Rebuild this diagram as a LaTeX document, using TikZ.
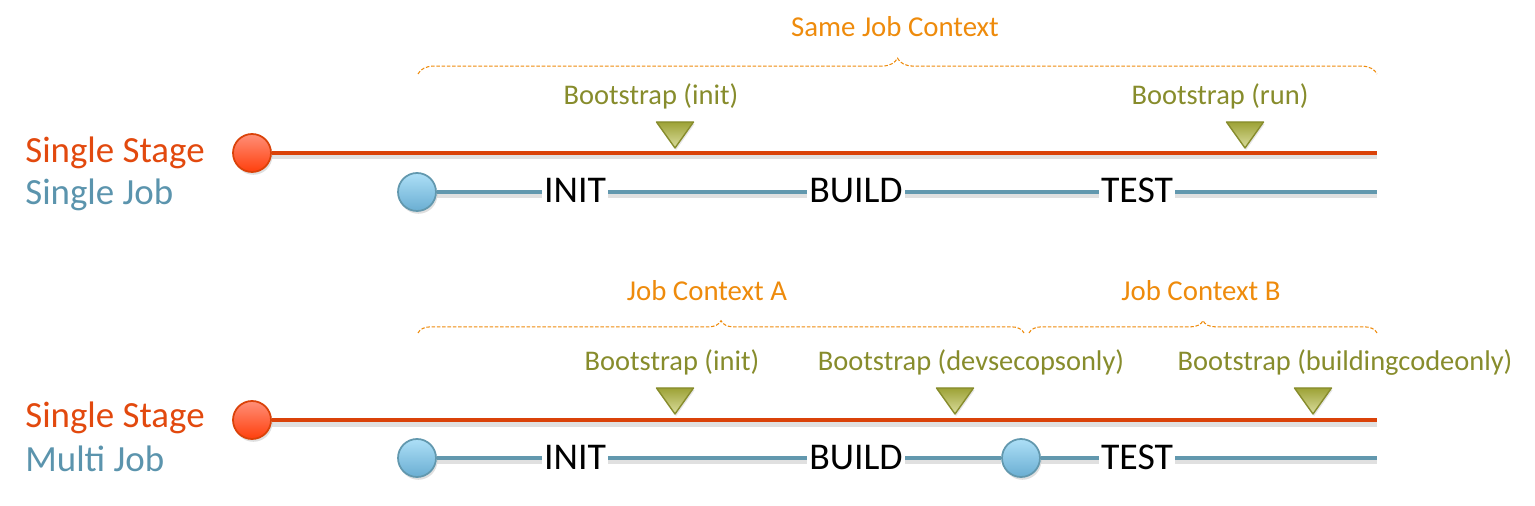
\documentclass[tikz,border=0pt]{standalone}
\usepackage{fontspec}
\setmainfont{Carlito}
\usetikzlibrary{decorations.pathreplacing,shadows}
\definecolor{stagered}{HTML}{DA4209}
\definecolor{stagetext}{HTML}{E2490E}
\definecolor{stagetop}{HTML}{FF8F78}
\definecolor{stagebot}{HTML}{FF3F0C}
\definecolor{jobblue}{HTML}{6298AE}
\definecolor{jobtext}{HTML}{5B94AD}
\definecolor{jobtop}{HTML}{ADDFF7}
\definecolor{jobbot}{HTML}{6AAED2}
\definecolor{ctxorange}{HTML}{EE8B0C}
\definecolor{bootolive}{HTML}{878C2C}
\definecolor{boottop}{HTML}{9DA236}
\definecolor{bootbot}{HTML}{DADD9E}

\begin{document}
\begin{tikzpicture}[x=0.02cm, y=-0.02cm,
    stagedot/.style={circle, draw=stagered, line width=1pt, top color=stagetop, bottom color=stagebot,
      minimum size=0.76cm, inner sep=0pt, drop shadow={opacity=.25, shadow xshift=.8pt, shadow yshift=-1.6pt}},
    jobdot/.style={circle, draw=jobblue, line width=1pt, top color=jobtop, bottom color=jobbot,
      minimum size=0.76cm, inner sep=0pt, drop shadow={opacity=.25, shadow xshift=.8pt, shadow yshift=-1.6pt}},
    stageline/.style={stagered, line width=2.8pt,
      preaction={draw=black, opacity=.12, line width=3.4pt, transform canvas={yshift=-2pt}}},
    jobline/.style={jobblue, line width=2.3pt,
      preaction={draw=black, opacity=.12, line width=3pt, transform canvas={yshift=-2pt}}},
    ctxbrace/.style={ctxorange, line width=.6pt, dash pattern=on 2pt off 1pt, decorate,
      decoration={brace, amplitude=#1}},
    ctxlabel/.style={ctxorange, font=\fontsize{16.4}{19}\selectfont, anchor=base, inner sep=0pt},
    bootlabel/.style={bootolive, font=\fontsize{16.2}{19}\selectfont, anchor=base, inner sep=0pt},
    rowlabel/.style={font=\fontsize{21}{25}\selectfont, anchor=base west, inner sep=0pt},
    steplabel/.style={fill=white, inner sep=1.2pt, font=\fontsize{21.5}{26}\selectfont, anchor=base},
    bootmark/.style={draw=bootolive, line width=.8pt, line join=round, top color=boottop, bottom color=bootbot,
      drop shadow={opacity=.2, shadow xshift=.6pt, shadow yshift=-1.2pt}}]
  \useasboundingbox (0,0) rectangle (1535,506);

  % single stage, single job
  \coordinate (ctxS-l) at (418,74);
  \coordinate (ctxS-r) at (1377,74);
  \draw[ctxbrace=9pt] (ctxS-l) -- (ctxS-r);
  \node[ctxlabel] (ctxS) at (895,37) {Same Job Context};

  \node[rowlabel, stagetext] (stageS) at (25,163) {Single Stage};
  \node[rowlabel, jobtext] (jobS) at (25,205) {Single Job};

  \node[stagedot] (stA) at (252,153) {};
  \coordinate (stA-end) at (1377,153);
  \draw[stageline] (stA) -- (stA-end);

  \node[jobdot] (jbA) at (417,192) {};
  \coordinate (jbA-end) at (1377,192);
  \draw[jobline] (jbA) -- (jbA-end);
  \node[steplabel] (initA) at (575,203) {INIT};
  \node[steplabel] (buildA) at (856,203) {BUILD};
  \node[steplabel] (testA) at (1137,203) {TEST};

  \node[bootlabel] (bootA1) at (651,105) {Bootstrap (init)};
  \node[bootlabel] (bootA2) at (1220,105) {Bootstrap (run)};
  \coordinate (mkA1) at (675,148);
  \coordinate (mkA2) at (1245,148);
  \draw[bootmark] (mkA1) -- ++(-18.5,-26) -- ++(37,0) -- cycle;
  \draw[bootmark] (mkA2) -- ++(-18.5,-26) -- ++(37,0) -- cycle;

  % single stage, multi job
  \coordinate (ctxA-l) at (418,333);
  \coordinate (ctxA-r) at (1024,333);
  \coordinate (ctxB-l) at (1029,333);
  \coordinate (ctxB-r) at (1377,333);
  \draw[ctxbrace=7pt] (ctxA-l) -- (ctxA-r);
  \draw[ctxbrace=7pt] (ctxB-l) -- (ctxB-r);
  \node[ctxlabel] (ctxA) at (707,301) {Job Context A};
  \node[ctxlabel] (ctxB) at (1201,301) {Job Context B};

  \node[rowlabel, stagetext] (stageM) at (25,428) {Single Stage};
  \node[rowlabel, jobtext] (jobM) at (25,471) {Multi Job};

  \node[stagedot] (stB) at (252,420) {};
  \coordinate (stB-end) at (1377,420);
  \draw[stageline] (stB) -- (stB-end);

  \node[jobdot] (jbB1) at (417,458) {};
  \node[jobdot] (jbB2) at (1021,458) {};
  \coordinate (jbB-end) at (1377,458);
  \draw[jobline] (jbB1) -- (jbB2);
  \draw[jobline] (jbB2) -- (jbB-end);
  \node[steplabel] (initB) at (575,469) {INIT};
  \node[steplabel] (buildB) at (856,469) {BUILD};
  \node[steplabel] (testB) at (1137,469) {TEST};

  \node[bootlabel] (bootB1) at (672,371) {Bootstrap (init)};
  \node[bootlabel] (bootB2) at (971,371) {Bootstrap (devsecopsonly)};
  \node[bootlabel] (bootB3) at (1345,371) {Bootstrap (buildingcodeonly)};
  \coordinate (mkB1) at (675,414);
  \coordinate (mkB2) at (955,414);
  \coordinate (mkB3) at (1313,414);
  \draw[bootmark] (mkB1) -- ++(-18.5,-26) -- ++(37,0) -- cycle;
  \draw[bootmark] (mkB2) -- ++(-18.5,-26) -- ++(37,0) -- cycle;
  \draw[bootmark] (mkB3) -- ++(-18.5,-26) -- ++(37,0) -- cycle;
\end{tikzpicture}
\end{document}
